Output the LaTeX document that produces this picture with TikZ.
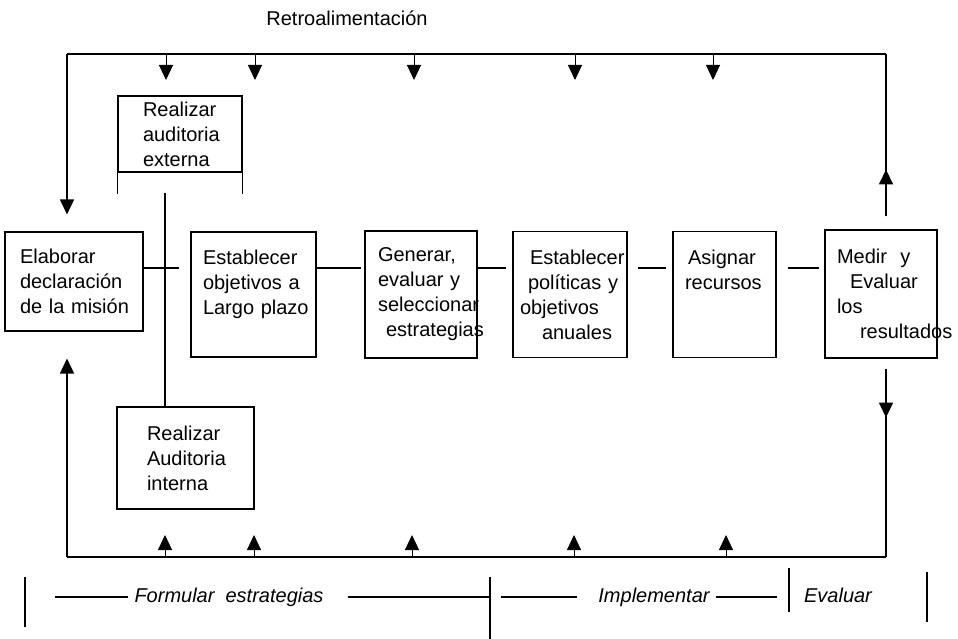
\documentclass[tikz,border=0pt]{standalone}
\usepackage{fontspec}
\setmainfont{Liberation Sans}
\usetikzlibrary{arrows.meta,calc}
\newcommand\letra{\fontsize{20}{25}\selectfont}
\hyphenpenalty=10000
\exhyphenpenalty=10000
\tikzset{
  caja/.style={
    draw=black,
    line width=1.1pt,
    align=left,
    inner ysep=0pt,
    font=\letra
  },
  linea/.style={line width=1.1pt},
  lazo/.style={line width=1.6pt},
  flecha/.style={-{Triangle[length=15pt,width=14pt]}, line width=1pt},
  fase/.style={font=\letra\itshape, inner sep=6pt, text height=14pt, text depth=4pt}
}
\begin{document}
\begin{tikzpicture}[x=1pt,y=-1pt]
        \useasboundingbox (0,0) rectangle (958,639);
        \node[font=\letra] (retro) at (347,18) {Retroalimentación};
        \node[caja, text width=108pt, inner xsep=15pt, minimum height=99pt] (mision) at (74,281.5) {Elaborar\\declaración\\de~la~misión};
        \node[caja, text width=101pt, inner xsep=12pt, minimum height=125pt] (objetivos) at (253.5,294.5) {Establecer\\objetivos~a\\Largo~plazo\\~};
        \node[caja, text width=86pt, inner xsep=13pt, minimum height=127pt] (generar) at (421,294.5) {Generar,\\evaluar~y\\seleccionar\\\hspace*{8pt}estrategias};
        \node[caja, text width=100pt, inner xsep=7pt, minimum height=126pt] (politicas) at (570,294.5) {\hspace*{10pt}Establecer\\\hspace*{8pt}políticas~y\\objetivos\\\hspace*{22pt}anuales};
        \node[caja, text width=79pt, inner xsep=12pt, minimum height=126pt] (recursos) at (724.5,294.5) {\hspace*{3pt}Asignar\\recursos\\~\\~};
        \node[caja, text width=88pt, inner xsep=12pt, minimum height=128pt] (medir) at (881,294) {Medir~~y\\\hspace*{13pt}Evaluar\\los\\\hspace*{23pt}resultados};
        \node[caja, text width=74pt, inner xsep=25pt, minimum height=76pt] (externa) at (180,134) {Realizar\\auditoria\\externa};
        \node[caja, text width=77pt, inner xsep=30pt, minimum height=102pt] (interna) at (185.5,458) {Realizar\\Auditoria\\interna};
        \draw[linea] (externa.south west) -- ++(0,21);
        \draw[linea] (externa.south east) -- ++(0,21);
        \coordinate (aud) at (165,193);
        \draw[linea] (aud) -- (aud |- interna.north);
        \coordinate (h) at (0,268);
        \draw[linea, shorten >=11pt] (mision.east |- h) -- (objetivos.west |- h);
        \draw[linea, shorten >=3pt] (objetivos.east |- h) -- (generar.west |- h);
        \draw[linea, shorten >=6pt] (generar.east |- h) -- (politicas.west |- h);
        \draw[linea, shorten <=10pt, shorten >=6pt] (politicas.east |- h) -- (recursos.west |- h);
        \draw[linea, shorten <=11pt, shorten >=5pt] (recursos.east |- h) -- (medir.west |- h);
        \coordinate (tl) at (67,54);
        \coordinate (tr) at (886,54);
        \coordinate (bl) at (67,557);
        \coordinate (br) at (886,557);
        \draw[lazo] (tl) -- (tr);
        \draw[lazo] (bl) -- (br);
        \draw[flecha, lazo] (tl) -- ([yshift=17pt]mision.north -| tl);
        \draw[flecha, lazo] (bl) -- ([yshift=-27pt]mision.south -| bl);
        \draw[lazo] ([yshift=13pt]medir.north -| tr) -- (tr);
        \draw[flecha, lazo] ([yshift=13pt]medir.north -| tr) -- ++(0,-47);
        \draw[lazo] ([yshift=-10pt]medir.south -| br) -- (br);
        \draw[flecha, lazo] ([yshift=-10pt]medir.south -| br) -- ++(0,49);
        \foreach \x in {99,188,347,508,646}
          \draw[flecha] (tl) ++(\x,0) -- ++(0,26);
        \foreach \x in {98,187,345,507,659}
          \draw[flecha] (bl) ++(\x,0) -- ++(0,-22);
        \coordinate (t1) at (25,597);
        \coordinate (t2) at (490,597);
        \coordinate (t3) at (789,597);
        \coordinate (t4) at (927,597);
        \draw[linea] ([yshift=20pt]t1) -- ([yshift=-30pt]t1);
        \draw[linea] ([yshift=20pt]t2) -- ([yshift=-42pt]t2);
        \draw[linea] ([yshift=29pt]t3) -- ([yshift=-15pt]t3);
        \draw[linea] ([yshift=25pt]t4) -- ([yshift=-25pt]t4);
        \node[fase] (formular) at (229,597) {Formular\ \ estrategias};
        \node[fase] (implementar) at (654,597) {Implementar};
        \node[fase] (evaluar) at (838,597) {Evaluar};
        \draw[linea, shorten <=30pt] (t1) -- (formular);
        \draw[linea, shorten <=18pt] (formular) -- (t2);
        \draw[linea, shorten <=11pt, shorten >=15pt] (t2) -- (implementar);
        \draw[linea, shorten >=12pt] (implementar) -- (t3);
      \end{tikzpicture}
\end{document}
